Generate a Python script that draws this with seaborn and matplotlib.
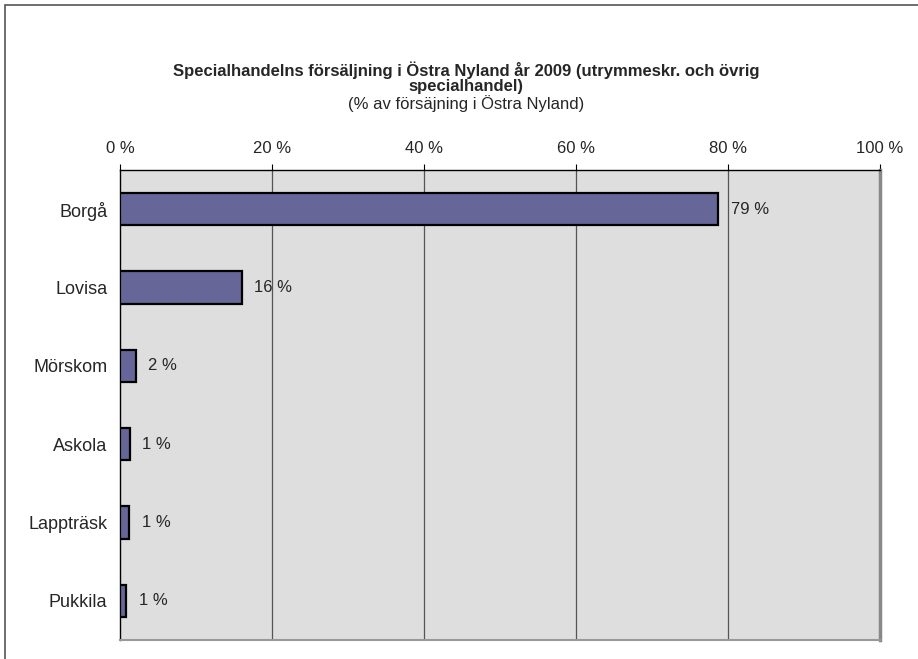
import matplotlib
matplotlib.use("Agg")
import matplotlib.pyplot as plt
import seaborn as sns
import pandas as pd
import numpy as np
from matplotlib.patches import Rectangle

categories = ["Borgå", "Lovisa", "Mörskom", "Askola", "Lappträsk", "Pukkila"]
values = [78.7, 16.0, 2.1, 1.3, 1.2, 0.8]
value_labels = ["79 %", "16 %", "2 %", "1 %", "1 %", "1 %"]
x_ticks = [0, 20, 40, 60, 80, 100]
x_tick_labels = ["0 %", "20 %", "40 %", "60 %", "80 %", "100 %"]
title_line1 = "Specialhandelns försäljning i Östra Nyland år 2009 (utrymmeskr. och övrig"
title_line2 = "specialhandel)"
subtitle = "(% av försäjning i Östra Nyland)"

df = pd.DataFrame({"kommun": categories, "andel": values})

sns.set_style("white")
plt.rcParams["font.family"] = ["Liberation Sans", "DejaVu Sans"]

W, H = 918, 659
fig = plt.figure(figsize=(W / 100, H / 100), dpi=100)
ax = fig.add_axes([120 / W, 1 - 640 / H, 760 / W, 470 / H])

sns.barplot(data=df, x="andel", y="kommun", orient="h", color="#666699",
            edgecolor="black", linewidth=1.6, width=0.41, saturation=1, ax=ax,
            zorder=3)

ax.set_facecolor("#dedede")
ax.set_xlim(0, 100)
ax.set_ylim(5.5, -0.5)
ax.set_xlabel("")
ax.set_ylabel("")

ax.xaxis.tick_top()
ax.set_xticks(x_ticks)
ax.set_xticklabels(x_tick_labels, fontsize=12)
ax.tick_params(axis="x", which="major", length=4, width=0.8, color="black",
               pad=6, direction="out")
for x in x_ticks[1:-1]:
    ax.axvline(x, color="#555555", lw=0.9, zorder=1)

ax.set_yticks(range(len(categories)))
ax.set_yticklabels(categories, fontsize=13)
ax.set_yticks(np.arange(-0.5, len(categories)), minor=True)
ax.tick_params(axis="y", which="major", length=0, pad=9)
ax.tick_params(axis="y", which="minor", length=5, width=0.8, color="black",
               direction="out")

for side in ["left", "top"]:
    ax.spines[side].set_visible(True)
    ax.spines[side].set_color("black")
    ax.spines[side].set_linewidth(1.0)
ax.spines["bottom"].set_visible(True)
ax.spines["bottom"].set_color("#999999")
ax.spines["bottom"].set_linewidth(1.5)
ax.spines["right"].set_visible(True)
ax.spines["right"].set_color("#888888")
ax.spines["right"].set_linewidth(2.5)

for i, (v, lab) in enumerate(zip(values, value_labels)):
    ax.annotate(lab, xy=(v, i), xytext=(9, 0), textcoords="offset points",
                va="center", ha="left", fontsize=12, zorder=4)

cx = 466 / W
fig.text(cx, 1 - 70 / H, title_line1, ha="center", va="center",
         fontsize=12, fontweight="bold")
fig.text(cx, 1 - 87 / H, title_line2, ha="center", va="center",
         fontsize=12, fontweight="bold")
fig.text(cx, 1 - 104 / H, subtitle, ha="center", va="center", fontsize=12)

fig.patches.append(Rectangle((5 / W, -0.1), 1.2, 1 - 5 / H + 0.1,
                             transform=fig.transFigure, fill=False,
                             edgecolor="#555555", linewidth=1.2))

fig.savefig("out.png", dpi=100)
